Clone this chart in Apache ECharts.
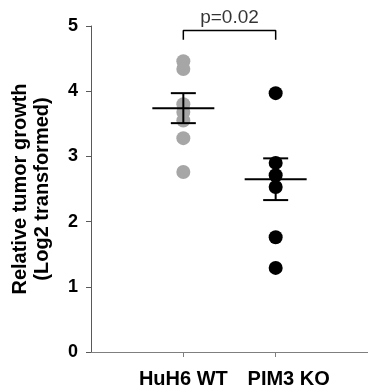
<!DOCTYPE html>
<html>
<head>
<meta charset="utf-8">
<script src="https://cdn.jsdelivr.net/npm/echarts@6/dist/echarts.min.js"></script>
<style>
  html, body { margin: 0; padding: 0; background: #fff; }
  #chart { width: 368px; height: 391px; }
</style>
</head>
<body>
<div id="chart"></div>
<script>
// groups and their x positions
const groups = ['HuH6 WT', 'PIM3 KO'];
const groupPos = [1, 2];

// individual values (log2 relative tumor growth)
const wtValues = [4.46, 4.34, 3.8, 3.68, 3.55, 3.28, 2.76];
const koValues = [3.97, 2.9, 2.71, 2.53, 1.76, 1.29];

// mean and SEM per group
const means = [3.74, 2.65];
const sems = [0.23, 0.32];

// significance bracket
const pText = 'p=0.02';
const bracketTop = 4.93;
const bracketFoot = 4.79;

const chart = echarts.init(document.getElementById('chart'));

const font = 'Liberation Sans, Arial, sans-serif';
const labelStyle = { color: '#000', fontFamily: font, fontWeight: 'bold', fontSize: 20 };

const option = {
  animation: false,
  grid: { left: 91, right: 0, top: 26, bottom: 39 },
  xAxis: {
    type: 'value',
    min: 0,
    max: 3,
    interval: 1,
    splitLine: { show: false },
    axisLine: { lineStyle: { color: '#7f7f7f', width: 1 } },
    axisTick: {
      show: true,
      length: 5,
      customValues: groupPos,
      lineStyle: { color: '#7f7f7f' }
    },
    axisLabel: {
      customValues: groupPos,
      // the second label sits a bit right of its tick in the original
      formatter: v => {
        const i = groupPos.indexOf(v);
        return i === 1 ? '{k|' + groups[i] + '}' : '{w|' + groups[i] + '}';
      },
      margin: 17,
      rich: {
        w: labelStyle,
        k: Object.assign({ padding: [0, 0, 0, 26] }, labelStyle)
      }
    }
  },
  yAxis: {
    type: 'value',
    min: 0,
    max: 5,
    interval: 1,
    splitLine: { show: false },
    axisLine: { show: true, lineStyle: { color: '#595959', width: 1 } },
    axisTick: { show: true, length: 5, lineStyle: { color: '#595959' } },
    axisLabel: {
      color: '#000',
      fontFamily: font,
      fontWeight: 'bold',
      fontSize: 18,
      margin: 13
    },
    name: 'Relative tumor growth\n(Log2 transformed)',
    nameLocation: 'middle',
    nameRotate: 90,
    nameGap: 38,
    nameTextStyle: {
      color: '#000',
      fontFamily: font,
      fontWeight: 'bold',
      fontSize: 20,
      lineHeight: 22
    }
  },
  series: [
    {
      type: 'scatter',
      symbolSize: 14,
      itemStyle: { color: '#a6a6a6', opacity: 1 },
      data: wtValues.map(v => [groupPos[0], v]),
      z: 2
    },
    {
      type: 'scatter',
      symbolSize: 14,
      itemStyle: { color: '#000', opacity: 1 },
      data: koValues.map(v => [groupPos[1], v]),
      z: 2
    },
    {
      type: 'custom',
      z: 3,
      data: groupPos.map((x, i) => [x, means[i], sems[i]]),
      renderItem: function (params, api) {
        const x = api.value(0), m = api.value(1), s = api.value(2);
        const c = api.coord([x, m]);
        const top = api.coord([x, m + s]);
        const bot = api.coord([x, m - s]);
        const halfMean = 31, halfCap = 12.5;
        const style = { stroke: '#000', lineWidth: 2 };
        return {
          type: 'group',
          children: [
            { type: 'line', shape: { x1: c[0] - halfMean, y1: c[1], x2: c[0] + halfMean, y2: c[1] }, style },
            { type: 'line', shape: { x1: top[0], y1: top[1], x2: bot[0], y2: bot[1] }, style },
            { type: 'line', shape: { x1: top[0] - halfCap, y1: top[1], x2: top[0] + halfCap, y2: top[1] }, style },
            { type: 'line', shape: { x1: bot[0] - halfCap, y1: bot[1], x2: bot[0] + halfCap, y2: bot[1] }, style }
          ]
        };
      }
    },
    {
      type: 'line',
      symbol: 'none',
      lineStyle: { color: '#000', width: 1.5 },
      data: [
        [groupPos[0], bracketFoot],
        [groupPos[0], bracketTop],
        [groupPos[1], bracketTop],
        [groupPos[1], bracketFoot]
      ],
      z: 3
    },
    {
      type: 'scatter',
      symbolSize: 0,
      data: [[(groupPos[0] + groupPos[1]) / 2, bracketTop]],
      label: {
        show: true,
        position: 'top',
        distance: 3,
        formatter: pText,
        color: '#000',
        fontFamily: font,
        fontSize: 19
      }
    }
  ]
};

chart.setOption(option);
</script>
</body>
</html>
